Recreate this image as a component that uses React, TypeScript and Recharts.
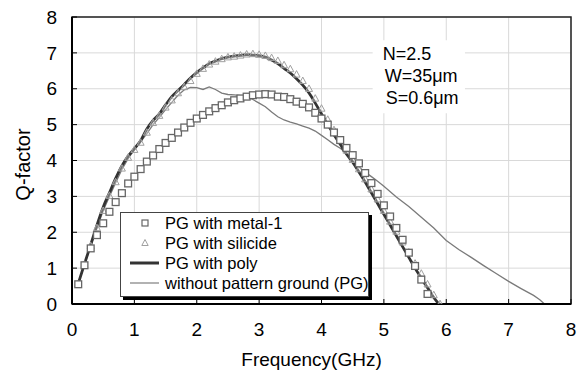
import React from 'react';
import {
  ComposedChart,
  Line,
  Scatter,
  XAxis,
  YAxis,
  CartesianGrid,
  ReferenceArea,
  Legend,
} from 'recharts';

const FONT = '"Liberation Sans", Arial, Helvetica, sans-serif';

const xTicks = [0, 1, 2, 3, 4, 5, 6, 7, 8];
const yTicks = [0, 1, 2, 3, 4, 5, 6, 7, 8];

const seriesNames = [
  'PG with metal-1',
  'PG with silicide',
  'PG with poly',
  'without pattern ground (PG)',
];

const annotationLines = ['N=2.5', 'W=35\u03bcm', 'S=0.6\u03bcm'];

const metalFreq = [
  0.1, 0.2, 0.3, 0.4, 0.5, 0.6, 0.7, 0.8, 0.9, 1.0,
  1.1, 1.2, 1.3, 1.4, 1.5, 1.6, 1.7, 1.8, 1.9, 2.0,
  2.1, 2.2, 2.3, 2.4, 2.5, 2.6, 2.7, 2.8, 2.9, 3.0,
  3.1, 3.2, 3.3, 3.4, 3.5, 3.6, 3.7, 3.8, 3.9, 4.0,
  4.1, 4.2, 4.3, 4.4, 4.5, 4.6, 4.7, 4.8, 4.9, 5.0,
  5.1, 5.2, 5.3, 5.4, 5.5, 5.6, 5.7,
];
const metalQ = [
  0.55, 1.08, 1.55, 1.92, 2.25, 2.57, 2.84, 3.09, 3.36, 3.55,
  3.76, 3.97, 4.14, 4.32, 4.49, 4.63, 4.78, 4.92, 5.05, 5.17,
  5.27, 5.37, 5.46, 5.54, 5.62, 5.68, 5.73, 5.78, 5.82, 5.84,
  5.85, 5.84, 5.78, 5.77, 5.71, 5.64, 5.58, 5.48, 5.33, 5.17,
  5.0, 4.78, 4.57, 4.35, 4.15, 3.92, 3.65, 3.37, 3.07, 2.75,
  2.44, 2.12, 1.79, 1.43, 1.06, 0.68, 0.28,
];

const silicideFreq = [
  0.1, 0.2, 0.3, 0.4, 0.5, 0.6, 0.7, 0.8, 0.9, 1.0,
  1.1, 1.2, 1.3, 1.4, 1.5, 1.6, 1.7, 1.8, 1.9, 2.0,
  2.1, 2.2, 2.3, 2.4, 2.5, 2.6, 2.7, 2.8, 2.9, 3.0,
  3.1, 3.2, 3.3, 3.4, 3.5, 3.6, 3.7, 3.8, 3.9, 4.0,
  4.1, 4.2, 4.3, 4.4, 4.5, 4.6, 4.7, 4.8, 4.9, 5.0,
  5.1, 5.2, 5.3, 5.4, 5.5, 5.6, 5.7, 5.8, 5.9,
];
const silicideQ = [
  0.55, 1.1, 1.62, 2.12, 2.6, 3.02, 3.4, 3.78, 4.08, 4.3,
  4.5, 4.78, 5.05, 5.25, 5.48, 5.68, 5.88, 6.05, 6.22, 6.42,
  6.56, 6.68, 6.76, 6.83, 6.88, 6.9, 6.93, 6.96, 6.97, 6.95,
  6.92, 6.86, 6.78, 6.66, 6.55, 6.4, 6.22, 6.0, 5.73, 5.45,
  5.14, 4.85, 4.55, 4.28, 4.02, 3.76, 3.48, 3.2, 2.92, 2.6,
  2.3, 2.02, 1.72, 1.44, 1.13, 0.85, 0.55, 0.25, 0.0,
];

const polyFreq = [
  0.1, 0.2, 0.3, 0.4, 0.5, 0.6, 0.7, 0.8, 0.9, 1.0,
  1.1, 1.2, 1.3, 1.4, 1.5, 1.6, 1.7, 1.8, 1.9, 2.0,
  2.1, 2.2, 2.3, 2.4, 2.5, 2.6, 2.7, 2.8, 2.9, 3.0,
  3.1, 3.2, 3.3, 3.4, 3.5, 3.6, 3.7, 3.8, 3.9, 4.0,
  4.1, 4.2, 4.3, 4.4, 4.5, 4.6, 4.7, 4.8, 4.9, 5.0,
  5.1, 5.2, 5.3, 5.4, 5.5, 5.6, 5.7, 5.8, 5.88,
];
const polyQ = [
  0.57, 1.12, 1.65, 2.2, 2.7, 3.1, 3.5, 3.85, 4.12, 4.33,
  4.55, 4.88, 5.12, 5.3, 5.55, 5.78, 5.95, 6.12, 6.3, 6.45,
  6.58, 6.7, 6.77, 6.84, 6.88, 6.91, 6.93, 6.95, 6.94, 6.92,
  6.88, 6.8, 6.7, 6.57, 6.44, 6.28, 6.1, 5.88, 5.6, 5.3,
  5.0, 4.72, 4.45, 4.18, 3.95, 3.68, 3.4, 3.1, 2.8, 2.5,
  2.2, 1.9, 1.6, 1.3, 1.0, 0.72, 0.45, 0.18, 0.0,
];

const noPgFreq = [
  0.1, 0.2, 0.3, 0.4, 0.5, 0.6, 0.7, 0.8, 0.9, 1.0,
  1.1, 1.2, 1.3, 1.4, 1.5, 1.6, 1.7, 1.8, 1.9, 2.0,
  2.1, 2.2, 2.3, 2.4, 2.5, 2.6, 2.7, 2.8, 2.9, 3.0,
  3.1, 3.2, 3.3, 3.4, 3.5, 3.6, 3.7, 3.8, 3.9, 4.0,
  4.1, 4.2, 4.3, 4.4, 4.5, 4.6, 4.7, 4.8, 4.9, 5.0,
  5.2, 5.4, 5.6, 5.8, 6.0, 6.2, 6.4, 6.6, 6.8, 7.0,
  7.2, 7.4, 7.5, 7.6, 7.65,
];
const noPgQ = [
  0.57, 1.1, 1.62, 2.12, 2.6, 3.0, 3.38, 3.75, 4.05, 4.3,
  4.52, 4.75, 5.0, 5.2, 5.42, 5.62, 5.82, 5.97, 6.04, 6.03,
  5.98, 6.05, 5.98, 5.88, 5.84, 5.83, 5.81, 5.77, 5.7, 5.6,
  5.5, 5.35, 5.22, 5.13, 5.07, 5.02, 4.96, 4.9, 4.82, 4.7,
  4.58, 4.45, 4.34, 4.2, 4.0, 3.82, 3.68, 3.55, 3.42, 3.28,
  2.98, 2.72, 2.42, 2.12, 1.77, 1.52, 1.3, 1.07, 0.85, 0.63,
  0.43, 0.24, 0.12, -0.04, -0.11,
];

const toPoints = (fs: number[], qs: number[]) => fs.map((f, i) => ({ f, q: qs[i] }));

const metalData = toPoints(metalFreq, metalQ);
const silicideData = toPoints(silicideFreq, silicideQ);
const polyData = toPoints(polyFreq, polyQ);
const noPgData = toPoints(noPgFreq, noPgQ);

const X_MARGIN = 19;
const Y_MARGIN = 15;

const XTick = (p: any) => (
  <g>
    <line x1={p.x} x2={p.x} y1={p.y - X_MARGIN} y2={p.y - X_MARGIN - 5} stroke="#000" strokeWidth={1} />
    <text x={p.x} y={p.y} dy="0.71em" textAnchor="middle" fontFamily={FONT} fontSize={19} fill="#000">
      {p.payload.value}
    </text>
  </g>
);

const YTick = (p: any) => (
  <g>
    <line x1={p.x + Y_MARGIN} x2={p.x + Y_MARGIN + 5} y1={p.y} y2={p.y} stroke="#000" strokeWidth={1} />
    <text x={p.x} y={p.y} dy="0.355em" textAnchor="end" fontFamily={FONT} fontSize={19} fill="#000">
      {p.payload.value}
    </text>
  </g>
);

const SquareShape = (p: any) => (
  <rect x={p.cx - 3.4} y={p.cy - 3.4} width={6.8} height={6.8} fill="#fff" stroke="#666" strokeWidth={1.3} />
);

const TriangleShape = (p: any) => (
  <path
    d={`M${p.cx},${p.cy - 3.8} L${p.cx + 3.5},${p.cy + 2.7} L${p.cx - 3.5},${p.cy + 2.7} Z`}
    fill="#fff"
    fillOpacity={0.3}
    stroke="#a0a0a0"
    strokeWidth={1}
  />
);

const renderLegend = () => (
  <div
    style={{
      boxSizing: 'border-box',
      width: 249,
      height: 85,
      border: '1px solid #444',
      boxShadow: '3px 3px 0 #000',
      background: '#fff',
      fontFamily: FONT,
      fontSize: 16.5,
      color: '#000',
    }}
  >
    {seriesNames.map((name, i) => (
      <div key={name} style={{ display: 'flex', alignItems: 'center', height: 20, whiteSpace: 'nowrap' }}>
        <svg width={44} height={20} style={{ display: 'block', flex: 'none' }}>
          {i === 0 && <rect x={21} y={7} width={6} height={6} fill="#fff" stroke="#666" strokeWidth={1.2} />}
          {i === 1 && <path d="M24,6.5 L27.2,12.5 L20.8,12.5 Z" fill="none" stroke="#a0a0a0" strokeWidth={1} />}
          {i === 2 && <line x1={9} x2={38} y1={10} y2={10} stroke="#333" strokeWidth={3} />}
          {i === 3 && <line x1={9} x2={38} y1={10} y2={10} stroke="#999" strokeWidth={1.5} />}
        </svg>
        <span>{name}</span>
      </div>
    ))}
  </div>
);

const AnnotationLabel = (props: any) => {
  const vb = props.viewBox || {};
  const offsets = [10, 12, 13];
  return (
    <g>
      {annotationLines.map((t, i) => (
        <text
          key={t}
          x={vb.x + offsets[i]}
          y={vb.y + 19.5 + i * 22}
          fontFamily={FONT}
          fontSize={18}
          fill="#000"
        >
          {t}
        </text>
      ))}
    </g>
  );
};

const XTitle = (props: any) => {
  const vb = props.viewBox || {};
  return (
    <text x={vb.x + vb.width / 2 - 10} y={vb.y + 62} textAnchor="middle" fontFamily={FONT} fontSize={19} fill="#000">
      Frequency(GHz)
    </text>
  );
};

const YTitle = (props: any) => {
  const vb = props.viewBox || {};
  const cy = vb.y + vb.height / 2 + 4;
  return (
    <text
      x={30}
      y={cy}
      transform={`rotate(-90, 30, ${cy})`}
      textAnchor="middle"
      fontFamily={FONT}
      fontSize={20}
      fill="#000"
    >
      Q-factor
    </text>
  );
};

export default function App() {
  return (
    <div style={{ position: 'absolute', left: 0, top: 0, width: 586, height: 374, background: '#fff' }}>
      <ComposedChart width={586} height={374} margin={{ top: 17, right: 15, bottom: 0, left: 0 }}>
        <CartesianGrid stroke="#d9d9d9" strokeWidth={1} />
        <XAxis
          dataKey="f"
          type="number"
          domain={[0, 8]}
          ticks={xTicks}
          interval={0}
          allowDataOverflow
          height={70}
          tickSize={0}
          tickMargin={X_MARGIN}
          tick={<XTick />}
          axisLine={{ stroke: '#000', strokeWidth: 2 }}
          tickLine={false}
          label={<XTitle />}
        />
        <YAxis
          dataKey="q"
          type="number"
          domain={[0, 8]}
          ticks={yTicks}
          interval={0}
          allowDataOverflow
          width={72}
          tickSize={0}
          tickMargin={Y_MARGIN}
          tick={<YTick />}
          axisLine={{ stroke: '#000', strokeWidth: 2 }}
          tickLine={false}
          label={<YTitle />}
        />
        <ReferenceArea x1={0} x2={8} y1={0} y2={8} fill="none" stroke="#222" strokeWidth={1.5} ifOverflow="visible" />
        <ReferenceArea
          x1={4.82}
          x2={6.3}
          y1={5.32}
          y2={7.35}
          fill="#fff"
          fillOpacity={1}
          stroke="none"
          label={<AnnotationLabel />}
        />
        <Line
          data={noPgData}
          dataKey="q"
          name={seriesNames[3]}
          type="linear"
          stroke="#7a7a7a"
          strokeWidth={1.3}
          dot={false}
          activeDot={false}
          isAnimationActive={false}
        />
        <Line
          data={polyData}
          dataKey="q"
          name={seriesNames[2]}
          type="monotone"
          stroke="#333"
          strokeWidth={2.8}
          dot={false}
          activeDot={false}
          isAnimationActive={false}
        />
        <Scatter
          data={silicideData}
          dataKey="q"
          name={seriesNames[1]}
          shape={<TriangleShape />}
          isAnimationActive={false}
        />
        <Scatter
          data={metalData}
          dataKey="q"
          name={seriesNames[0]}
          shape={<SquareShape />}
          isAnimationActive={false}
        />
        <Legend
          layout="horizontal"
          verticalAlign="middle"
          align="center"
          content={renderLegend}
          wrapperStyle={{ position: 'absolute', left: 120, top: 212, width: 249, height: 85 }}
        />
      </ComposedChart>
    </div>
  );
}
